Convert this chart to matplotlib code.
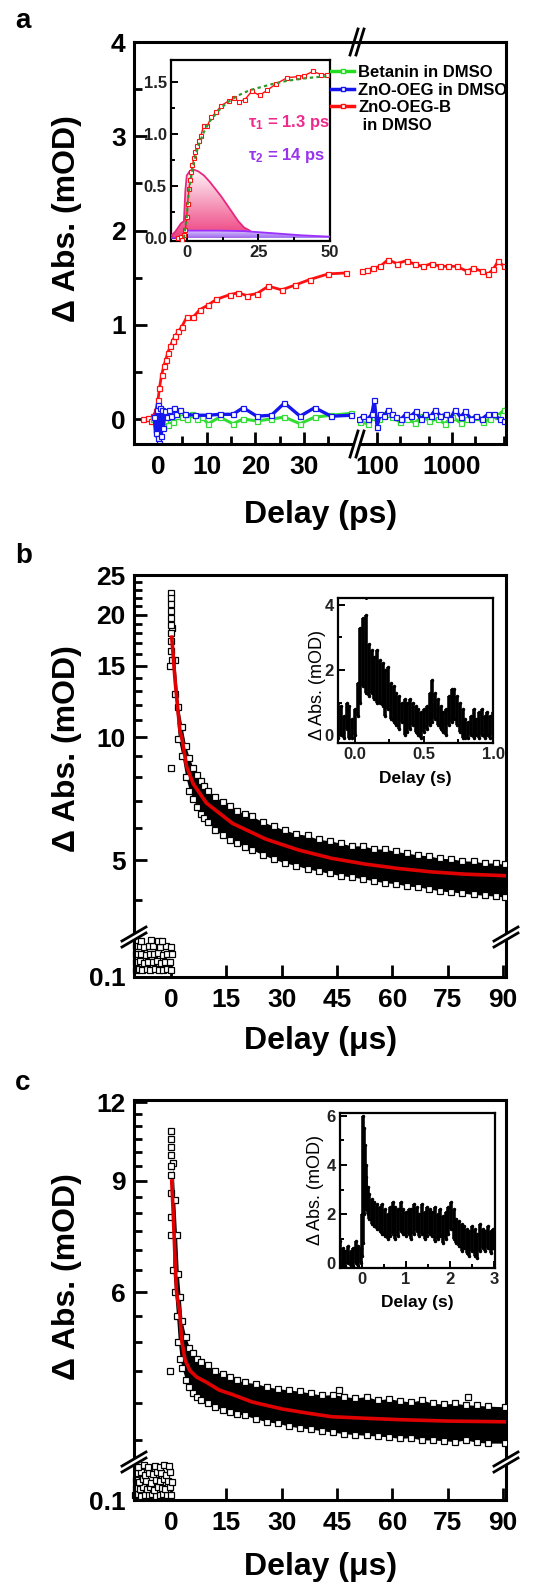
import numpy as np
import matplotlib
matplotlib.use("Agg")
import matplotlib.pyplot as plt
from matplotlib.colors import LinearSegmentedColormap
from matplotlib.lines import Line2D
from matplotlib.ticker import NullFormatter

plt.rcParams['font.family'] = ['Liberation Sans', 'DejaVu Sans']
plt.rcParams['font.weight'] = 'bold'
plt.rcParams['mathtext.fontset'] = 'custom'
plt.rcParams['mathtext.rm'] = 'Liberation Sans:bold'
plt.rcParams['mathtext.it'] = 'Liberation Sans:bold'
plt.rcParams['mathtext.bf'] = 'Liberation Sans:bold'
plt.rcParams['xtick.direction'] = 'in'
plt.rcParams['ytick.direction'] = 'in'
plt.rcParams['axes.linewidth'] = 2.2

# ---------------- panel a : fs transient (ps) ----------------
red_t = [-3.0, -2.0, -1.5, -1.0, -0.5, 0.0, 0.3, 0.75, 1.2, 1.6, 2.0, 2.5, 3.0, 3.5, 4.2,
         4.9, 5.9, 7.2, 8.6, 10.3, 12.0, 14.8, 16.5, 18.2, 20.3, 22.7, 25.4, 28.1, 31.2, 35.0,
         38.7, 41.0, 44.0, 47.0, 49.0, 63, 73, 88, 110, 140,
         183, 249, 321, 415, 536, 690, 894, 1155, 1568, 1920, 2480, 3040, 3560, 4150, 4870]
red_v = [0.0, 0.01, -0.02, 0.03, 0.08, 0.2, 0.33, 0.47, 0.56, 0.63, 0.7, 0.77, 0.83, 0.88, 0.93,
         0.98, 1.08, 1.08, 1.16, 1.21, 1.27, 1.32, 1.34, 1.31, 1.33, 1.41, 1.37, 1.42, 1.48, 1.54,
         1.55, 1.56, 1.6, 1.57, 1.57, 1.57, 1.58, 1.6, 1.62, 1.69,
         1.65, 1.68, 1.64, 1.62, 1.65, 1.62, 1.62, 1.62, 1.57, 1.6, 1.57, 1.54, 1.59, 1.68, 1.62]

grn_t = [-1.0, -0.5, 0.0, 0.3, 0.6, 1.0, 1.5, 2.0, 2.5, 3.0, 4.0, 5.0, 6.0, 7.0, 8.0,
         9.0, 10.3, 12.7, 15.4, 17.5, 20.3, 23.3, 26.0, 29.2, 32.2, 35.6, 39.7,
         60, 75, 90, 105, 130, 160, 200, 250, 320, 400, 500, 650, 800, 1000, 1300,
         1600, 2000, 2600, 3200, 4000, 5000]
grn_v = [0.0, -0.05, -0.1, 0.02, -0.08, -0.05, -0.02, -0.06, 0.0, -0.03, 0.03, 0.02, 0.0, 0.05, 0.0,
         0.02, -0.05, 0.02, -0.05, 0.0, -0.02, 0.0, 0.02, -0.05, 0.02, 0.04, 0.06,
         -0.03, -0.05, 0.02, 0.0, 0.05, 0.02, -0.03, 0.0, -0.04, 0.03, -0.02, 0.0, -0.05, 0.02, -0.04,
         0.0, 0.02, -0.03, 0.0, 0.03, 0.1]

blu_t = [-0.8, -0.5, -0.3, -0.1, 0.1, 0.3, 0.5, 0.7, 0.9, 1.1, 1.4, 1.8, 2.2, 2.7, 3.2,
         3.8, 4.5, 5.5, 7.6, 10.3, 12.7, 15.4, 17.5, 20.3, 23.3, 26.0, 29.2, 32.2, 35.6, 39.7,
         58, 65, 75, 85, 92, 100, 110, 125, 140, 160, 180, 210, 240, 280, 330, 380,
         440, 520, 600, 700, 820, 950, 1100, 1300, 1500, 1800, 2100, 2500, 3000, 3600, 4300, 5000]
blu_v = [0.02, -0.15, 0.1, -0.2, 0.15, -0.25, 0.12, -0.18, 0.1, -0.1, 0.08, 0.02, 0.1, 0.03, 0.12,
         0.05, 0.1, 0.05, 0.04, 0.04, 0.05, 0.05, 0.12, 0.03, 0.04, 0.17, 0.03, 0.12, 0.03, 0.04,
         0.0, 0.03, 0.0, 0.05, 0.2, -0.08, 0.05, 0.03, 0.1, 0.05, 0.02, 0.0, 0.05, 0.03, 0.08, 0.0,
         0.05, 0.03, 0.1, 0.03, 0.05, 0.0, 0.1, 0.02, 0.08, 0.0, 0.03, 0.0, 0.05, 0.05, 0.0, -0.02]

# inset a: fit and the two kinetic components
fit_a_t = [-1, 0, 0.5, 1, 2, 3, 4, 6, 8, 11, 14, 18, 22, 26, 30, 35, 40, 45, 50]
fit_a_v = [0.0, 0.2, 0.38, 0.5, 0.66, 0.78, 0.88, 1.02, 1.12, 1.22, 1.3, 1.37, 1.42, 1.45,
           1.48, 1.51, 1.53, 1.545, 1.555]
comp1_t = [-5.5, -4, -3, -2, -1, -0.5, 0, 1, 2, 4, 6, 8, 10, 12, 14, 16, 18, 20, 22]
comp1_v = [0.02, 0.06, 0.1, 0.14, 0.16, 0.45, 0.6, 0.64, 0.66, 0.64, 0.6, 0.54, 0.47, 0.4,
           0.32, 0.24, 0.16, 0.1, 0.07]
comp2_t = [-5.5, -3, -1.5, -0.5, 0, 5, 10, 15, 20, 25, 30, 35, 40, 45, 50]
comp2_v = [0.0, 0.0, 0.02, 0.05, 0.07, 0.07, 0.07, 0.068, 0.065, 0.055, 0.045, 0.035, 0.025, 0.018, 0.012]

# ---------------- panel b : us transient ----------------
fit_b_t = [0.2, 1.1, 2.4, 3.1, 4.2, 6.0, 9.6, 16.7, 25.7, 34.7, 43.6, 52.6, 61.6, 70.5, 79.5, 90.5]
fit_b_v = [17.6, 13.8, 10.4, 9.8, 8.5, 7.7, 6.9, 6.15, 5.63, 5.29, 5.05, 4.89, 4.77, 4.68, 4.62, 4.58]
band_b_t = [0.3, 1, 2, 3, 4, 5, 6, 7, 8, 9, 10, 12, 14, 16, 18, 20, 22, 25, 28, 31,
            34, 37, 40, 43, 46, 49, 52, 55, 58, 61, 64, 67, 70, 73, 76, 79, 82, 85, 88, 90.5]
upper_b = [18.5, 15.5, 11.9, 10.6, 9.5, 8.9, 8.4, 8.1, 7.8, 7.6, 7.4, 7.15, 6.95, 6.8, 6.6,
           6.5, 6.4, 6.2, 6.05, 5.92, 5.8, 5.75, 5.62, 5.58, 5.5, 5.42, 5.42, 5.33, 5.32, 5.25,
           5.2, 5.15, 5.12, 5.05, 5.04, 4.98, 4.97, 4.92, 4.92, 4.88]
lower_b = [15.5, 12.8, 9.9, 9.0, 8.0, 7.4, 7.05, 6.75, 6.5, 6.35, 6.2, 5.92, 5.75, 5.6, 5.5,
           5.38, 5.3, 5.15, 5.02, 4.92, 4.85, 4.76, 4.7, 4.64, 4.58, 4.55, 4.5, 4.45, 4.4, 4.38,
           4.32, 4.3, 4.25, 4.2, 4.18, 4.15, 4.12, 4.1, 4.08, 4.06]
col_b_t = [0.1, 0.1, 0.1, 0.1, 0.1, 0.1, 0.1, 0.1, 0.1, -0.4, 0.0]
col_b_v = [22.6, 22.0, 21.2, 20.4, 19.6, 18.8, 18.0, 17.2, 16.3, 15.0, 8.4]
pre_b_t = [-9.6, -8.7, -7.8, -6.6, -5.6, -4.4, -3.3, -2.1, -1.0, 0.1,
           -9.4, -8.3, -7.2, -6.1, -5.0, -3.9, -2.7, -1.6, -0.4,
           -9.5, -8.2, -6.9, -5.7, -4.6, -3.4, -2.3, -1.1, 0.2,
           -9.6, -8.5, -7.3, -6.0, -4.8, -3.0, -1.3, -0.1,
           -8.0, -5.3, -3.6, -2.4]
pre_b_v = [0.118, 0.12, 0.117, 0.119, 0.118, 0.12, 0.117, 0.118, 0.12, 0.118,
           0.137, 0.139, 0.136, 0.138, 0.137, 0.139, 0.136, 0.137, 0.138,
           0.157, 0.158, 0.156, 0.158, 0.157, 0.159, 0.156, 0.157, 0.158,
           0.177, 0.178, 0.176, 0.178, 0.177, 0.175, 0.178, 0.176,
           0.19, 0.192, 0.19, 0.191]
# inset b (s)
in_b_t = [-0.12, -0.10, -0.08, -0.06, -0.04, -0.02, 0.00, 0.02, 0.04, 0.06, 0.08, 0.10, 0.12, 0.14,
          0.16, 0.18, 0.20, 0.22, 0.24, 0.26, 0.28, 0.30, 0.32, 0.34, 0.36, 0.38, 0.40, 0.42,
          0.44, 0.46, 0.48, 0.50, 0.52, 0.54, 0.56, 0.58, 0.60, 0.62, 0.64, 0.66, 0.68, 0.70,
          0.72, 0.74, 0.76, 0.78, 0.80, 0.82, 0.84, 0.86, 0.88, 0.90, 0.92, 0.94, 0.96, 0.98, 1.00]
in_b_lo = [-0.1, 0.0, -0.1, 0.2, -0.1, -0.1, 0.0, 0.6, 1.0, 1.5, 1.3, 1.2, 1.3, 1.1,
           1.0, 1.0, 0.9, 0.6, 0.8, 0.5, 0.4, 0.3, 0.2, 0.4, 0.0, 0.1, 0.2, 0.3,
           0.1, 0.0, -0.1, 0.1, 0.2, 0.3, 0.4, 0.5, 0.3, 0.2, 0.1, 0.0, 0.3, 0.4,
           0.5, 0.3, 0.1, -0.1, -0.1, -0.1, 0.0, -0.1, 0.0, -0.1, 0.0, -0.1, 0.0, -0.1, 0.0]
in_b_hi = [1.0, 0.9, 0.6, 1.0, 0.9, 0.5, 0.8, 1.6, 3.3, 3.6, 3.7, 2.8, 2.6, 2.4,
           2.6, 2.3, 2.2, 2.0, 2.1, 1.6, 1.5, 1.3, 1.2, 1.0, 1.1, 1.0, 1.1, 1.0,
           0.9, 0.8, 0.7, 0.8, 0.9, 1.3, 1.7, 1.3, 1.1, 0.9, 0.7, 0.8, 1.2, 1.4,
           1.4, 1.2, 1.0, 0.8, 0.5, 0.4, 0.6, 0.8, 0.5, 0.7, 0.8, 0.6, 0.7, 0.6, 0.7]

# ---------------- panel c : us transient ----------------
fit_c_t = [0.2, 0.6, 1.0, 1.5, 2.4, 2.9, 3.8, 5.1, 7.0, 9.6, 13.0, 16.7, 22.0, 30.0, 37.0,
           43.5, 52.0, 61.5, 75.0, 90.5]
fit_c_v = [9.0, 8.0, 7.0, 6.0, 5.55, 5.03, 4.69, 4.51, 4.4, 4.32, 4.2, 4.13, 4.02, 3.92, 3.86,
           3.81, 3.79, 3.77, 3.75, 3.74]
band_c_t = [0.5, 1, 1.5, 2, 2.5, 3, 4, 5, 6, 7, 8, 10, 12, 14, 16, 18, 20, 23, 26, 29,
            32, 35, 38, 41, 44, 47, 50, 53, 56, 59, 62, 65, 68, 71, 74, 77, 80, 83, 86, 90.5]
upper_c = [9.6, 8.4, 7.4, 6.4, 5.9, 5.4, 5.1, 4.9, 4.8, 4.7, 4.65, 4.6, 4.5, 4.45, 4.4,
           4.35, 4.32, 4.3, 4.25, 4.22, 4.2, 4.18, 4.15, 4.12, 4.13, 4.1, 4.08, 4.1, 4.05, 4.07,
           4.04, 4.02, 4.05, 4.0, 3.99, 4.0, 3.98, 3.97, 3.96, 3.95]
lower_c = [6.5, 6.0, 5.5, 5.0, 4.7, 4.55, 4.35, 4.25, 4.15, 4.1, 4.05, 4.0, 3.95, 3.9, 3.87,
           3.85, 3.83, 3.78, 3.74, 3.72, 3.68, 3.66, 3.64, 3.62, 3.6, 3.58, 3.57, 3.56, 3.55, 3.54,
           3.52, 3.53, 3.5, 3.5, 3.49, 3.48, 3.5, 3.47, 3.46, 3.46]
col_c_t = [0.1, 0.1, 0.1, 0.1, 0.1, 0.1, 0.1, 0.1, 0.1, -0.3, 45.4, 80.6]
col_c_v = [10.8, 10.5, 10.2, 9.9, 9.5, 9.2, 8.6, 7.9, 7.4, 4.5, 4.2, 4.1]
pre_c_t = [-9.7, -8.9, -8.0, -7.1, -6.0, -5.2, -4.1, -3.0, -2.2, -1.0, 0.0,
           -9.5, -8.4, -7.5, -6.4, -5.6, -4.6, -3.5, -2.5, -1.5, -0.4,
           -9.6, -8.8, -7.7, -6.7, -5.4, -4.2, -3.1, -2.0, -0.8, 0.3,
           -9.3, -8.1, -7.0, -5.9, -4.9, -3.7, -2.6, -1.3, -0.2,
           -9.0, -7.4, -6.2, -4.4, -2.9, -1.8, -0.6]
pre_c_v = [0.112, 0.115, 0.11, 0.114, 0.112, 0.116, 0.111, 0.113, 0.115, 0.112, 0.114,
           0.132, 0.128, 0.135, 0.13, 0.133, 0.127, 0.134, 0.131, 0.129, 0.133,
           0.152, 0.148, 0.155, 0.15, 0.146, 0.153, 0.149, 0.156, 0.151, 0.148,
           0.17, 0.174, 0.167, 0.172, 0.169, 0.175, 0.171, 0.166, 0.173,
           0.188, 0.192, 0.186, 0.19, 0.187, 0.193, 0.189]
# inset c (s)
in_c_t = [-0.50, -0.44, -0.38, -0.32, -0.26, -0.20, -0.14, -0.08, -0.02, 0.00, 0.02, 0.04, 0.06,
          0.08, 0.10, 0.13, 0.16, 0.22, 0.28, 0.34, 0.40, 0.46, 0.52, 0.58, 0.64, 0.70, 0.76,
          0.82, 0.88, 0.94, 1.00, 1.06, 1.12, 1.18, 1.24, 1.30, 1.36, 1.42, 1.48, 1.54, 1.60,
          1.66, 1.72, 1.78, 1.84, 1.90, 1.96, 2.02, 2.08, 2.14, 2.20, 2.26, 2.32, 2.38, 2.44,
          2.50, 2.56, 2.62, 2.68, 2.74, 2.80, 2.86, 2.92, 2.98]
in_c_lo = [-0.1, -0.1, -0.1, 0.0, -0.1, -0.1, 0.0, -0.1, 0.0, 0.3, 0.8, 2.0, 2.5,
           2.3, 2.2, 2.0, 1.8, 1.6, 1.5, 1.4, 1.3, 1.2, 1.1, 1.0, 1.1, 1.2, 1.0,
           1.1, 1.3, 1.2, 1.1, 1.2, 1.0, 1.2, 1.3, 1.1, 1.2, 1.0, 1.1, 1.2, 1.1,
           0.9, 1.0, 1.1, 0.8, 1.0, 1.2, 1.4, 1.0, 0.8, 0.7, 0.5, 0.6, 0.4, 0.3,
           0.5, 0.3, 0.2, 0.5, 0.6, 0.5, 0.6, 0.4, 0.6]
in_c_hi = [0.9, 0.6, 0.5, 0.7, 0.5, 0.6, 0.9, 0.7, 0.6, 2.0, 6.0, 5.5, 4.8,
           4.0, 3.5, 3.1, 2.8, 2.6, 2.5, 2.4, 2.3, 2.4, 2.2, 2.0, 2.3, 2.5, 2.3,
           2.2, 2.5, 2.2, 2.1, 2.2, 2.2, 2.4, 2.3, 2.0, 2.4, 2.1, 2.3, 2.2, 2.1,
           2.3, 2.0, 2.2, 1.9, 2.1, 2.3, 2.5, 2.2, 1.8, 1.7, 1.6, 1.5, 1.4, 1.3,
           1.5, 1.4, 1.2, 1.6, 1.4, 1.3, 1.5, 1.3, 1.4]

# ---------------- layout helpers ----------------
W, H = 539, 1587
fig = plt.figure(figsize=(W / 100, H / 100), dpi=100)


def box(l, t, r, b):
    return [l / W, 1 - b / H, (r - l) / W, (b - t) / H]


def fx(px):
    return px / W


def fy(py):
    return 1 - py / H


def main_ticks(ax):
    ax.tick_params(which='major', length=9, width=2, labelsize=19, pad=6)
    ax.tick_params(which='minor', length=5.5, width=2)
    ax.tick_params(which='both', top=False, right=False)


def inset_ticks(ax):
    ax.tick_params(which='major', length=5, width=1.4, labelsize=12, pad=3, labelcolor='#222222')
    ax.tick_params(which='minor', length=3, width=1.4)
    ax.tick_params(which='both', top=False, right=False)
    for s in ax.spines.values():
        s.set_linewidth(1.6)


def slash(xc, yc, dx, dy, offx, offy, gap=False):
    if gap:
        fig.add_artist(Line2D([fx(xc - dx), fx(xc + dx)], [fy(yc + dy), fy(yc - dy)],
                              color='white', lw=3.5, transform=fig.transFigure))
    for s in (-1, 1):
        x0, y0 = xc + s * offx / 2, yc + s * offy / 2
        fig.add_artist(Line2D([fx(x0 - dx), fx(x0 + dx)], [fy(y0 + dy), fy(y0 - dy)],
                              color='black', lw=2, transform=fig.transFigure))


def grad_fill(ax, t, v, c_bot, c_top, vmax):
    poly = ax.fill_between(t, v, 0, facecolor='none', edgecolor='none')
    cmap = LinearSegmentedColormap.from_list('g', [c_bot, c_top])
    img = ax.imshow(np.linspace(0, 1, 100).reshape(-1, 1), extent=[min(t), max(t), 0, vmax],
                    origin='lower', cmap=cmap, aspect='auto', zorder=1)
    img.set_clip_path(poly.get_paths()[0], transform=ax.transData)


# ================= panel a =================
axL = fig.add_axes(box(134, 42, 357, 444))
axR = fig.add_axes(box(357, 42, 506, 444))
series = [(red_t, red_v, '#FF1010', 2.0), (grn_t, grn_v, '#33DD33', 2.2), (blu_t, blu_v, '#1515EE', 2.4)]
for t, v, c, lw in series:
    t = np.asarray(t)
    v = np.asarray(v)
    for ax, m in ((axL, t <= 40.5), (axR, t >= 54)):
        ax.plot(t[m], v[m], color=c, lw=lw, marker='s', ms=3.6, mfc='white', mec=c, mew=0.9)

axR.set_xscale('log')
axL.set_xlim(-4.93, 40.9)
axR.set_xlim(54, 5250)
for ax in (axL, axR):
    ax.set_ylim(-0.265, 4.0)
    main_ticks(ax)
axL.spines['right'].set_visible(False)
axR.spines['left'].set_visible(False)
axL.set_xticks([0, 10, 20, 30])
axL.set_xticks([5, 15, 25, 35], minor=True)
axL.set_yticks([0, 1, 2, 3, 4])
axL.set_yticks([0.5, 1.5, 2.5, 3.5], minor=True)
axR.set_xticks([100, 1000], ['100', '1000'])
axR.set_xticks([200, 500, 2000, 5000], minor=True)
axR.xaxis.set_minor_formatter(NullFormatter())
axR.tick_params(which='both', left=False, labelleft=False)
axL.tick_params(axis='x', pad=8)
axR.tick_params(axis='x', pad=8)
slash(357, 42, 4, 13, 6, 0)
slash(357, 444, 4, 13, 6, 0, gap=True)

# legend
hnd = [Line2D([], [], color='#22DD22', lw=2.5, marker='s', ms=3, mfc='white', mec='#22DD22'),
       Line2D([], [], color='#1515EE', lw=2.5, marker='s', ms=3, mfc='white', mec='#1515EE'),
       Line2D([], [], color='#FF1010', lw=2.5, marker='s', ms=3, mfc='white', mec='#FF1010'),
       Line2D([], [], linestyle='none')]
fig.legend(hnd, ['Betanin in DMSO', 'ZnO-OEG in DMSO', 'ZnO-OEG-B', ' in DMSO'],
           loc='upper left', bbox_to_anchor=(fx(331), fy(65)), frameon=False, fontsize=12,
           handlelength=1.4, handletextpad=0.25, labelspacing=0.16, borderpad=0, borderaxespad=0)

# inset a
axI = fig.add_axes(box(171, 60, 330, 241))
grad_fill(axI, comp1_t, comp1_v, '#EE3F7E', '#FFF6FA', 0.66)
grad_fill(axI, comp2_t, comp2_v, '#9A66F0', '#DCCBFA', 0.07)
axI.plot(comp1_t, comp1_v, color='#E6287F', lw=1.3, zorder=3)
axI.plot(comp2_t, comp2_v, color='#9B30FF', lw=1.3, zorder=3)
axI.plot(red_t, red_v, color='#FF1010', lw=1.0, marker='s', ms=3, mfc='white', mec='#FF1010',
         mew=0.8, zorder=4)
axI.plot(fit_a_t, fit_a_v, color='#2E9A2E', lw=1.6, ls=(0, (1.5, 1.5)), zorder=5)
axI.set_xlim(-5.5, 50)
axI.set_ylim(-0.03, 1.71)
axI.set_xticks([0, 25, 50])
axI.set_xticks([12.5, 37.5], minor=True)
axI.set_yticks([0, 0.5, 1.0, 1.5], ['0.0', '0.5', '1.0', '1.5'])
axI.set_yticks([0.25, 0.75, 1.25], minor=True)
inset_ticks(axI)
axI.text(21.5, 1.11, 'τ$_1$ = 1.3 ps', color='#EE2B8C', fontsize=12, va='center')
axI.text(21.5, 0.79, 'τ$_2$ = 14 ps', color='#9933EE', fontsize=12, va='center')

fig.text(fx(67), fy(219), 'Δ Abs. (mOD)', rotation=90, ha='center', va='center', fontsize=23)
fig.text(fx(321), fy(515), 'Delay (ps)', ha='center', va='center', fontsize=23)
fig.text(fx(15), fy(28), 'a', fontsize=20, va='baseline')


# ================= panels b and c =================
def us_panel(top, brk, bot, fit_t, fit_v, band_t, upper, lower, col_t, col_v, pre_t, pre_v,
             ylim, majors, minors):
    axu = fig.add_axes(box(134, top, 506, brk))
    axl = fig.add_axes(box(134, brk, 506, bot))
    axu.fill_between(band_t, lower, upper, color='black', lw=0, zorder=2)
    for arr in (upper, lower):
        axu.plot(band_t, arr, ls='none', marker='s', ms=4.5, mfc='white', mec='black', mew=0.9, zorder=3)
    axu.plot(col_t, col_v, ls='none', marker='s', ms=4.5, mfc='white', mec='black', mew=0.9, zorder=3)
    axu.plot(fit_t, fit_v, color='#E00000', lw=2.6, zorder=5)
    axl.plot(pre_t, pre_v, ls='none', marker='s', ms=4.5, mfc='white', mec='black', mew=0.9, clip_on=False)
    axu.set_yscale('log')
    axu.set_ylim(*ylim)
    axl.set_ylim(0.1, 0.2)
    for ax in (axu, axl):
        ax.set_xlim(-10.03, 90.8)
        main_ticks(ax)
    axu.spines['bottom'].set_visible(False)
    axl.spines['top'].set_visible(False)
    axu.tick_params(which='both', bottom=False, labelbottom=False)
    axu.set_yticks(majors, [str(m) for m in majors])
    axu.set_yticks(minors, minor=True)
    axu.yaxis.set_minor_formatter(NullFormatter())
    axl.set_yticks([0.1], ['0.1'])
    axl.set_yticks([], minor=True)
    axl.set_xticks([0, 15, 30, 45, 60, 75, 90])
    axl.tick_params(axis='x', pad=8)
    slash(134, brk, 12, 7, 0, 6, gap=True)
    slash(506, brk, 12, 7, 0, 6, gap=True)
    return axu, axl


us_panel(575, 937, 977, fit_b_t, fit_b_v, band_b_t, upper_b, lower_b, col_b_t, col_b_v,
         pre_b_t, pre_b_v, (3.24, 25), [5, 10, 15, 20, 25],
         [4, 6, 7, 8, 9, 11, 12, 13, 14, 16, 17, 18, 19, 21, 22, 23, 24])
us_panel(1100, 1462, 1500, fit_c_t, fit_c_v, band_c_t, upper_c, lower_c, col_c_t, col_c_v,
         pre_c_t, pre_c_v, (3.23, 12.09), [6, 9, 12],
         [3.5, 4, 4.5, 5, 5.5, 6.5, 7, 7.5, 8, 8.5, 9.5, 10, 10.5, 11, 11.5])

# inset b
axBi = fig.add_axes(box(338, 598, 493, 743))
axBi.vlines(in_b_t, in_b_lo, in_b_hi, colors='black', lw=2.6)
axBi.plot(in_b_t, in_b_hi, 'k.', ms=3)
axBi.plot(in_b_t, in_b_lo, 'k.', ms=3)
axBi.plot([0.08], [4.2], 'k.', ms=2.5)
axBi.set_xlim(-0.123, 1.0)
axBi.set_ylim(-0.246, 4.215)
axBi.set_xticks([0.0, 0.5, 1.0], ['0.0', '0.5', '1.0'])
axBi.set_xticks([0.25, 0.75], minor=True)
axBi.set_yticks([0, 2, 4])
axBi.set_yticks([1, 3], minor=True)
inset_ticks(axBi)
fig.text(fx(318), fy(685), 'Δ Abs. (mOD)', rotation=90, ha='center', va='center', fontsize=13,
         fontweight='normal')
fig.text(fx(415), fy(778), 'Delay (s)', ha='center', va='center', fontsize=12.5)

# inset c
axCi = fig.add_axes(box(340, 1113, 495, 1268))
axCi.vlines(in_c_t, in_c_lo, in_c_hi, colors='black', lw=2.6)
axCi.plot(in_c_t, in_c_hi, 'k.', ms=3)
axCi.plot(in_c_t, in_c_lo, 'k.', ms=3)
axCi.set_xlim(-0.5, 3.02)
axCi.set_ylim(-0.2, 6.12)
axCi.set_xticks([0, 1, 2, 3])
axCi.set_xticks([0.5, 1.5, 2.5], minor=True)
axCi.set_yticks([0, 2, 4, 6])
axCi.set_yticks([1, 3, 5], minor=True)
inset_ticks(axCi)
fig.text(fx(316), fy(1190), 'Δ Abs. (mOD)', rotation=90, ha='center', va='center', fontsize=13,
         fontweight='normal')
fig.text(fx(417), fy(1302), 'Delay (s)', ha='center', va='center', fontsize=12.5)

fig.text(fx(67), fy(749), 'Δ Abs. (mOD)', rotation=90, ha='center', va='center', fontsize=23)
fig.text(fx(321), fy(1041), 'Delay (μs)', ha='center', va='center', fontsize=23)
fig.text(fx(15), fy(563), 'b', fontsize=20, va='baseline')

fig.text(fx(67), fy(1277), 'Δ Abs. (mOD)', rotation=90, ha='center', va='center', fontsize=23)
fig.text(fx(321), fy(1567), 'Delay (μs)', ha='center', va='center', fontsize=23)
fig.text(fx(15), fy(1090), 'c', fontsize=20, va='baseline')

fig.savefig('out.png', dpi=100)
